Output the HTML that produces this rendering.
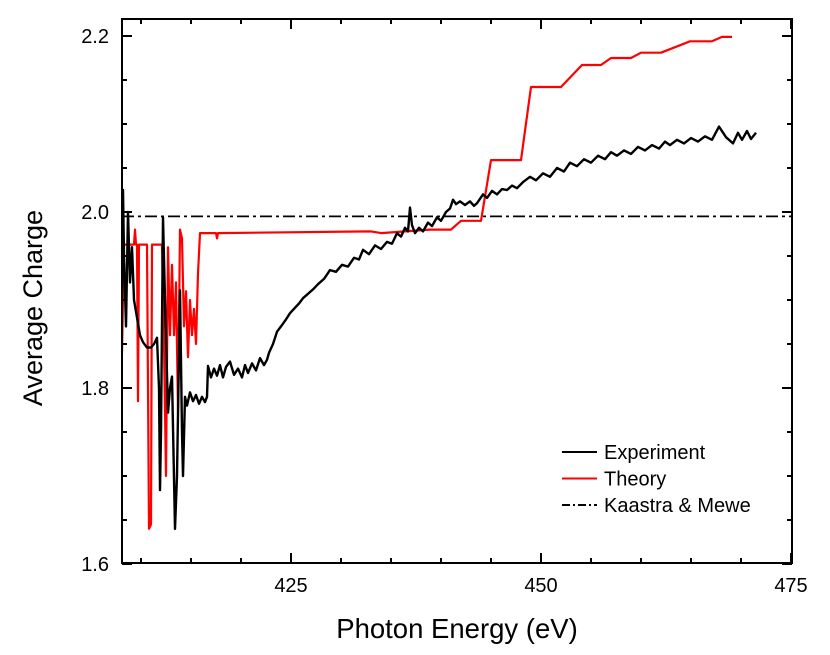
<!DOCTYPE html>
<html><head><meta charset="utf-8">
<style>
body{margin:0;background:#fff;}
svg{display:block;font-family:"Liberation Sans",Arial,sans-serif;}
</style></head>
<body>
<svg id="chart" width="830" height="655" viewBox="0 0 830 655">
<g id="plot"></g>
</svg>
<script>
const xTicksMajor = [425, 450, 475];
const xTicksMinor = [410, 415, 420, 430, 435, 440, 445, 455, 460, 465, 470];
const yTicksMajor = [1.6, 1.8, 2.0, 2.2];
const yTicksMinor = [1.65, 1.7, 1.75, 1.85, 1.9, 1.95, 2.05, 2.1, 2.15];
const kaastraValue = 1.995;
const expEnergy = [408.1,408.2,408.3,408.5,408.7,408.9,409.1,409.3,409.6,409.9,410.2,410.6,411.0,411.3,411.6,411.8,411.9,412.0,412.2,412.4,412.7,412.9,413.1,413.4,413.6,413.9,414.1,414.2,414.4,414.6,414.9,415.2,415.5,415.8,416.1,416.4,416.6,416.7,417.0,417.3,417.6,417.9,418.2,418.5,418.9,419.3,419.7,420.1,420.4,420.7,421.1,421.5,421.9,422.3,422.6,422.8,423.2,423.6,424.0,424.5,424.9,425.3,425.8,426.2,426.6,427.2,427.7,428.3,428.9,429.5,430.1,430.7,431.3,431.8,432.2,432.8,433.4,434.0,434.6,435.1,435.6,436.0,436.4,436.7,436.9,437.1,437.4,437.8,438.2,438.7,439.1,439.6,440.0,440.5,440.9,441.2,441.5,441.9,442.4,442.9,443.3,443.6,444.2,444.6,445.1,445.6,446.1,446.6,447.1,447.6,448.2,448.9,449.5,450.2,450.9,451.6,452.3,452.9,453.6,454.3,455.0,455.7,456.4,457.0,457.6,458.3,459.0,459.7,460.4,461.1,461.8,462.4,462.9,463.6,464.3,465.0,465.7,466.4,467.1,467.8,468.5,469.2,469.7,470.1,470.6,471.0,471.5,471.9,472.4];
const expCharge = [1.90,2.025,1.95,1.87,2.00,1.92,1.96,1.90,1.88,1.86,1.852,1.846,1.846,1.85,1.857,1.80,1.684,1.75,1.994,1.90,1.772,1.80,1.813,1.64,1.70,1.911,1.75,1.70,1.79,1.78,1.795,1.785,1.792,1.782,1.79,1.784,1.79,1.825,1.812,1.822,1.814,1.826,1.812,1.824,1.83,1.815,1.822,1.812,1.826,1.817,1.828,1.82,1.834,1.826,1.832,1.84,1.85,1.864,1.87,1.878,1.885,1.89,1.896,1.902,1.906,1.912,1.918,1.924,1.934,1.932,1.94,1.938,1.948,1.946,1.957,1.952,1.962,1.958,1.966,1.964,1.976,1.972,1.982,1.978,2.005,1.985,1.976,1.982,1.978,1.988,1.984,1.994,1.99,2.0,2.004,2.014,2.009,2.012,2.008,2.012,2.007,2.01,2.02,2.016,2.024,2.02,2.026,2.025,2.03,2.027,2.034,2.04,2.036,2.044,2.04,2.05,2.046,2.056,2.052,2.06,2.056,2.064,2.06,2.068,2.064,2.07,2.066,2.074,2.07,2.076,2.072,2.08,2.076,2.082,2.078,2.084,2.08,2.086,2.082,2.097,2.085,2.078,2.09,2.082,2.092,2.083,2.09];
const theoryEnergy = [408.1,408.3,409.3,409.4,409.5,409.6,409.7,409.8,410.6,410.8,411.0,411.1,412.1,412.3,412.5,412.7,412.9,413.1,413.3,413.5,413.7,413.9,414.1,414.3,414.5,414.7,414.9,415.1,415.3,415.5,415.7,415.9,417.5,417.6,417.7,433.0,434.0,438.9,441.0,442.0,444.0,445.0,448.0,449.0,452.0,454.1,456.0,457.0,459.0,460.0,462.0,464.9,467.1,468.1,469.1];
const theoryCharge = [1.84,1.963,1.963,1.98,1.963,1.963,1.785,1.963,1.963,1.64,1.645,1.963,1.963,1.85,1.70,1.96,1.86,1.94,1.86,1.92,1.775,1.98,1.97,1.87,1.91,1.835,1.90,1.86,1.89,1.85,1.93,1.976,1.976,1.97,1.976,1.978,1.976,1.98,1.98,1.99,1.99,2.059,2.059,2.142,2.142,2.167,2.167,2.175,2.175,2.181,2.181,2.194,2.194,2.199,2.199];

const L=122,R=792,T=19,B=563;
const xs = v => 291 + (v-425)*10;
const ys = v => 212 - (v-2.0)*880;
const NS="http://www.w3.org/2000/svg";
const g=document.getElementById('plot');
function mk(tag, attrs){const e=document.createElementNS(NS,tag);for(const k in attrs)e.setAttribute(k,attrs[k]);g.appendChild(e);return e;}

const defs=mk('defs',{});
const cp=document.createElementNS(NS,'clipPath');cp.setAttribute('id','clip');
const cr=document.createElementNS(NS,'rect');cr.setAttribute('x',L);cr.setAttribute('y',T);cr.setAttribute('width',R-L);cr.setAttribute('height',B-T);
cp.appendChild(cr);defs.appendChild(cp);

const kl=mk('line',{x1:L,x2:R,y1:ys(kaastraValue),y2:ys(kaastraValue),stroke:'#000','stroke-width':1.8,'stroke-dasharray':'12,4,3,4'});



function poly(xsArr, ysArr, color, w, name){
  let d='';
  for(let i=0;i<xsArr.length;i++){d+=(i?'L':'M')+xs(xsArr[i]).toFixed(1)+','+ys(ysArr[i]).toFixed(1);}
  const p=mk('path',{d:d,fill:'none',stroke:color,'stroke-width':w,'stroke-linejoin':'round','clip-path':'url(#clip)'});
  
  
}
poly(theoryEnergy, theoryCharge, '#ff0000', 2.2, 'theory-line');
poly(expEnergy, expCharge, '#000000', 2.4, 'experiment-line');

const fr=mk('rect',{x:L,y:T,width:R-L,height:B-T,fill:'none',stroke:'#000','stroke-width':2});



xTicksMajor.forEach(v=>{
  const x=xs(v);
  mk('line',{x1:x,x2:x,y1:B,y2:B-10,stroke:'#000','stroke-width':2});
  mk('line',{x1:x,x2:x,y1:T,y2:T+10,stroke:'#000','stroke-width':2});
  const t=mk('text',{x:x,y:B+29,'text-anchor':'middle','font-size':20});
  t.textContent=v;
  
  
});
xTicksMinor.forEach(v=>{
  const x=xs(v);
  mk('line',{x1:x,x2:x,y1:B,y2:B-5,stroke:'#000','stroke-width':2});
  mk('line',{x1:x,x2:x,y1:T,y2:T+5,stroke:'#000','stroke-width':2});
});
yTicksMajor.forEach(v=>{
  const y=ys(v);
  mk('line',{x1:L,x2:L+10,y1:y,y2:y,stroke:'#000','stroke-width':2});
  mk('line',{x1:R,x2:R-10,y1:y,y2:y,stroke:'#000','stroke-width':2});
  const t=mk('text',{x:109,y:y+7,'text-anchor':'end','font-size':20});
  t.textContent=v.toFixed(1);
  
  
});
yTicksMinor.forEach(v=>{
  const y=ys(v);
  mk('line',{x1:L,x2:L+5,y1:y,y2:y,stroke:'#000','stroke-width':2});
  mk('line',{x1:R,x2:R-5,y1:y,y2:y,stroke:'#000','stroke-width':2});
});

const xt=mk('text',{x:457,y:638,'text-anchor':'middle','font-size':27.5});
xt.textContent='Photon Energy (eV)';


const yt=mk('text',{x:0,y:0,'text-anchor':'middle','font-size':27,transform:'translate(42,308) rotate(-90)'});
yt.textContent='Average Charge';



const legend=[['Experiment','#000',''],['Theory','#ff0000',''],['Kaastra & Mewe','#000','8,3,2,3']];
legend.forEach((it,i)=>{
  const y=452+i*26.5;
  const ln=mk('line',{x1:562,x2:597,y1:y,y2:y,stroke:it[1],'stroke-width':2,'stroke-dasharray':it[2]||'none'});
  
  
  const t=mk('text',{x:604,y:y+7,'font-size':20});
  t.textContent=it[0];
  
  
});
</script>
</body></html>
